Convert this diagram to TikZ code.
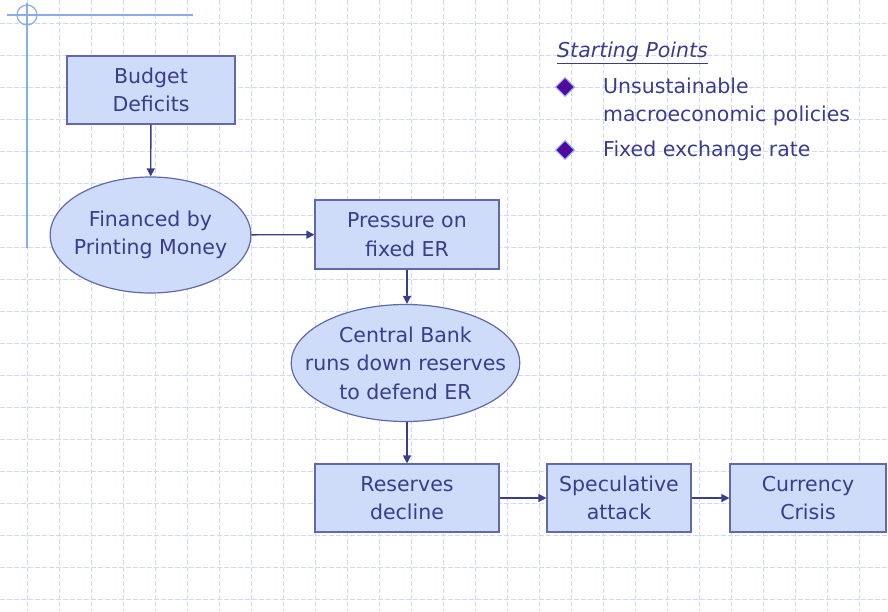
\documentclass[tikz,border=0pt]{standalone}
\usepackage{fontspec}
\setmainfont{DejaVu Sans}
\usetikzlibrary{shapes.geometric, arrows.meta}

\definecolor{boxfill}{RGB}{206,220,250}
\definecolor{boxline}{RGB}{96,106,170}
\definecolor{ink}{RGB}{58,60,140}
\definecolor{gridline}{RGB}{205,216,252}
\definecolor{frameblue}{RGB}{140,170,240}
\definecolor{bulletpurple}{RGB}{80,10,160}

\begin{document}
\begin{tikzpicture}[x=1pt, y=-1pt,
    every node/.style={text=ink, font=\fontsize{20.5}{28.5}\selectfont, align=center, inner sep=0pt},
    stepbox/.style={rectangle, draw=boxline, fill=boxfill, line width=1.2pt, minimum height=68pt},
    bubble/.style={ellipse, draw=boxline, fill=boxfill, line width=1.2pt},
    flow/.style={draw=ink, line width=1.4pt, -{Triangle[width=8pt, length=8pt]}},
    bullet/.style={diamond, fill=bulletpurple, draw=frameblue, line width=1pt, minimum size=19pt}]
    \useasboundingbox (0,0) rectangle (888,611);

    % background grid
    \foreach \gx in {27,59,...,891} {
      \draw[gridline, line width=1pt, dash pattern=on 5pt off 2pt] (\gx,0) -- (\gx,611);
    }
    \foreach \gy in {23,55,...,611} {
      \draw[gridline, line width=1pt, dash pattern=on 5pt off 2pt] (0,\gy) -- (888,\gy);
    }

    % corner mark
    \draw[frameblue, line width=1.2pt] (7,15) -- (193,15);
    \draw[frameblue, line width=1.2pt] (27,3) -- (27,248);
    \draw[frameblue, line width=1.2pt] (27,15) circle (10);

    \node (budget) at (151,90) [stepbox, minimum width=168pt] {Budget\\Deficits};

    \node (printing) at (150.5,235) [bubble, inner xsep=-5.7pt, minimum height=116pt] {Financed by\\Printing Money};
    \draw[flow] (budget) -- (printing);

    \node (pressure) at (407,234.5) [stepbox, minimum width=184pt, minimum height=69pt] {Pressure on\\fixed ER};
    \draw[flow] (printing) -- (pressure);

    \node (bank) at (405.5,363) [bubble, inner xsep=-19.8pt, minimum height=117pt] {Central Bank\\runs down reserves\\to defend ER};
    \draw[flow] (pressure.south) -- (pressure.south |- bank.north);

    \node (reserves) at (407,498) [stepbox, minimum width=184pt] {Reserves\\decline};
    \draw[flow] (bank.south -| reserves.north) -- (reserves.north);

    \node (attack) at (619,498) [stepbox, minimum width=144pt] {Speculative\\attack};
    \draw[flow] (reserves) -- (attack);

    \node (crisis) at (808,498) [stepbox, minimum width=156pt] {Currency\\Crisis};
    \draw[flow] (attack) -- (crisis);

    % starting points
    \node (start) at (557,53) [anchor=west, font=\fontsize{20.5}{24}\selectfont\itshape] {\underline{Starting Points}};
    \node (b1) at (565,87) [bullet] {};
    \node (p1) at (603,102) [anchor=west, align=left] {Unsustainable\\macroeconomic policies};
    \node (b2) at (565,150) [bullet] {};
    \node (p2) at (603,151) [anchor=west] {Fixed exchange rate};
\end{tikzpicture}
\end{document}
